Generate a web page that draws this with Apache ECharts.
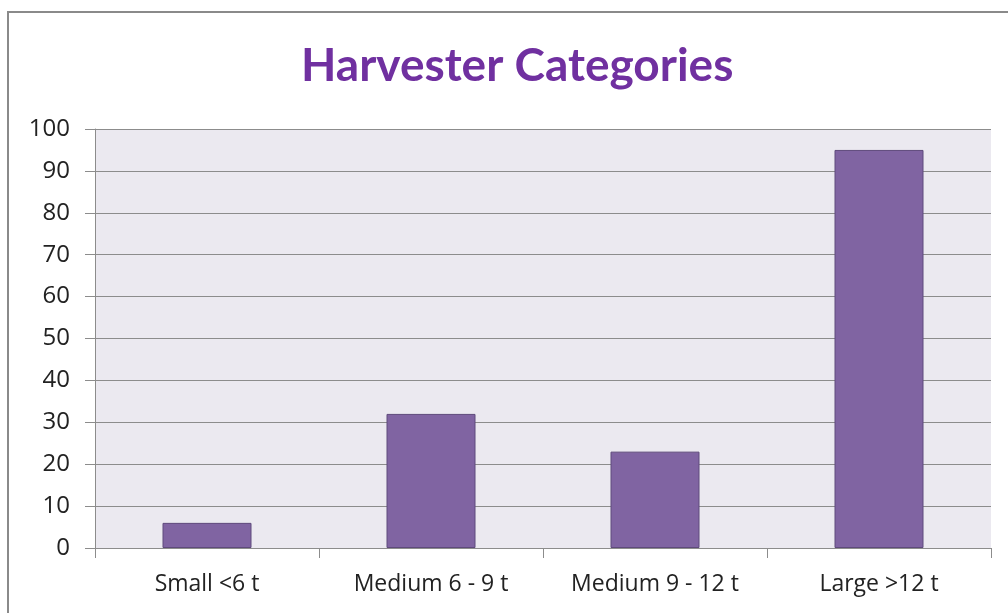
<!DOCTYPE html>
<html>
<head>
<meta charset="utf-8">
<script src="https://cdn.jsdelivr.net/npm/echarts@6/dist/echarts.min.js"></script>
<style>
  html, body { margin: 0; padding: 0; background: #fff; }
  #frame { position: absolute; left: 7px; top: 11px; width: 1010px; height: 610px; border: 2px solid #8a8a8a; box-sizing: border-box; }
  #ech { position: absolute; left: 0; top: 0; width: 1008px; height: 613px; }
</style>
</head>
<body>
<div id="frame"></div>
<div id="ech"></div>
<script>
// data
var categories = ['Small <6 t', 'Medium 6 - 9 t', 'Medium 9 - 12 t', 'Large >12 t'];
var counts = [6, 32, 23, 95];
var yTicks = [0, 10, 20, 30, 40, 50, 60, 70, 80, 90, 100];

var ownChart = echarts.init(document.getElementById('ech'));
var option = {
    title: {
        text: 'Harvester Categories',
        left: 296,
        top: 38,
        textStyle: { color: '#7030A0', fontFamily: 'Lato', fontWeight: 'bold', fontSize: 46 }
    },
    grid: {
        left: 95, right: 17, top: 129, bottom: 65,
        show: true, backgroundColor: '#EBE9F0', borderWidth: 0
    },
    xAxis: {
        type: 'category',
        data: categories,
        axisLine: { lineStyle: { color: '#8c8c8c', width: 1 } },
        axisTick: { show: true, length: 10, lineStyle: { color: '#8c8c8c' } },
        axisLabel: { interval: 0, color: '#222', fontFamily: 'Open Sans', fontSize: 23, margin: 25 }
    },
    yAxis: {
        type: 'value',
        min: yTicks[0], max: yTicks[yTicks.length - 1], interval: 10,
        axisLine: { show: true, lineStyle: { color: '#8c8c8c' } },
        axisTick: { show: true, length: 10, lineStyle: { color: '#8c8c8c' } },
        splitLine: { lineStyle: { color: '#8c8c8c', width: 1 } },
        axisLabel: { color: '#222', fontFamily: 'Open Sans', fontSize: 24, margin: 25 }
    },
    series: [{
        type: 'bar',
        data: counts,
        barWidth: 89,
        itemStyle: { color: '#8064A2', borderColor: '#5f4a7c', borderWidth: 1 }
    }]
};
ownChart.setOption(option);
</script>
</body>
</html>
